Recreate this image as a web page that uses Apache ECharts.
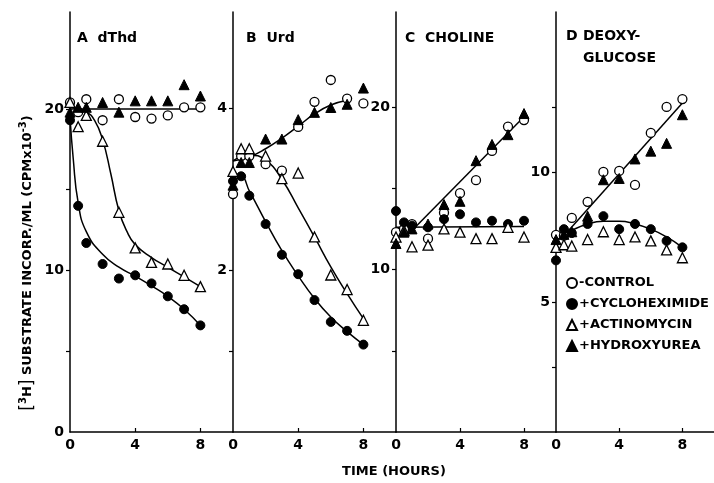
<!DOCTYPE html>
<html>
<head>
<meta charset="utf-8">
<script src="https://cdn.jsdelivr.net/npm/echarts@6.0.0/dist/echarts.min.js"></script>
<style>
  html, body { margin: 0; padding: 0; background: #fff; }
  #chart { width: 714px; height: 483px; }
</style>
</head>
<body>
<div id="chart"></div>
<script>
// sampling times (hours)
const hours = [0, 0.5, 1, 2, 3, 4, 5, 6, 7, 8]

// A  dThd
const dThdControl = [20.4, 19.8, 20.6, 19.3, 20.6, 19.5, 19.4, 19.6, 20.1, 20.1]
const dThdCyclo = [19.3, 14.0, 11.7, 10.4, 9.5, 9.7, 9.2, 8.4, 7.6, 6.6]
const dThdActino = [20.4, 18.9, 19.6, 18.0, 13.6, 11.4, 10.5, 10.4, 9.7, 9.0]
const dThdHydroxy = [19.8, 20.1, 20.1, 20.4, 19.8, 20.5, 20.5, 20.5, 21.5, 20.8]
// fitted curves (drawn by hand in the original)
const dThdFlatH = [0, 8]
const dThdFlat = [20.0, 20.0]
const dThdCycloFitH = [0, 0.2, 0.5, 1, 2, 3, 4, 5, 6, 7, 8]
const dThdCycloFit = [19.5, 16.9, 14.2, 12.4, 11.0, 10.2, 9.65, 9.05, 8.4, 7.6, 6.6]
const dThdActinoFitH = [0, 1, 1.5, 2, 2.5, 3, 3.5, 4, 5, 6, 7, 8]
const dThdActinoFit = [20.1, 19.8, 19.3, 18.1, 16.0, 13.7, 12.4, 11.6, 10.8, 10.2, 9.6, 9.0]

// B  Urd
const urdControl = [2.94, 3.41, 3.41, 3.31, 3.23, 3.77, 4.08, 4.35, 4.12, 4.06]
const urdCyclo = [3.1, 3.16, 2.92, 2.57, 2.19, 1.95, 1.63, 1.36, 1.25, 1.08]
const urdActino = [3.22, 3.5, 3.5, 3.41, 3.13, 3.2, 2.41, 1.94, 1.76, 1.38]
const urdHydroxy = [3.05, 3.33, 3.33, 3.62, 3.62, 3.86, 3.95, 4.01, 4.05, 4.25]
const urdRiseH = [0, 1, 2, 3, 4, 5, 6, 7]
const urdRise = [3.35, 3.4, 3.5, 3.63, 3.78, 3.93, 4.04, 4.1]
const urdActinoFitH = [0, 1, 2, 3, 4, 5, 6, 7, 8]
const urdActinoFit = [3.35, 3.42, 3.36, 3.12, 2.77, 2.41, 2.04, 1.71, 1.4]
const urdCycloFit = [3.1, 3.15, 2.98, 2.6, 2.24, 1.93, 1.65, 1.42, 1.24, 1.08]

// C  CHOLINE
const cholControl = [12.3, 12.5, 12.8, 11.9, 13.5, 14.7, 15.5, 17.3, 18.8, 19.2]
const cholCyclo = [13.6, 12.9, 12.7, 12.6, 13.1, 13.4, 12.9, 13.0, 12.8, 13.0]
const cholActino = [12.0, 12.4, 11.4, 11.5, 12.5, 12.3, 11.9, 11.9, 12.6, 12.0]
const cholHydroxy = [11.6, 12.3, 12.5, 12.8, 14.0, 14.2, 16.7, 17.7, 18.3, 19.6]
const cholFlatH = [0, 8]
const cholFlat = [12.6, 12.65]
const cholRiseH = [1.2, 8]
const cholRise = [12.6, 19.4]

// D  DEOXY-GLUCOSE
const dgControl = [7.58, 7.55, 8.23, 8.85, 10.0, 10.04, 9.5, 11.5, 12.5, 12.8]
const dgCyclo = [6.6, 7.8, 7.65, 8.0, 8.3, 7.8, 8.0, 7.8, 7.35, 7.1]
const dgActino = [7.1, 7.2, 7.15, 7.4, 7.7, 7.4, 7.5, 7.35, 7.0, 6.7]
const dgHydroxy = [7.4, 7.6, 7.7, 8.3, 9.7, 9.75, 10.5, 10.8, 11.1, 12.2]
const dgRiseH = [0.8, 8]
const dgRise = [7.75, 12.65]
const dgHumpH = [0, 1, 2, 3, 4, 5, 6, 7, 8]
const dgHump = [7.4, 7.75, 8.0, 8.1, 8.1, 8.0, 7.8, 7.5, 7.1]

const FONT = 'DejaVu Sans'
const pair = (xs, ys) => xs.map((x, i) => [x, ys[i]])

function marks(idx, control, cyclo, actino, hydroxy) {
  const base = { type: 'scatter', xAxisIndex: idx, yAxisIndex: idx, z: 5 }
  const open = { color: '#fff', borderColor: '#000', borderWidth: 1.3, opacity: 1 }
  const solid = { color: '#000', borderColor: '#000', borderWidth: 1, opacity: 1 }
  return [
    { ...base, name: 'CONTROL', symbol: 'circle', symbolSize: 9, itemStyle: open, data: pair(hours, control) },
    { ...base, name: 'CYCLOHEXIMIDE', symbol: 'circle', symbolSize: 9, itemStyle: solid, data: pair(hours, cyclo) },
    { ...base, name: 'ACTINOMYCIN', symbol: 'triangle', symbolSize: 10, itemStyle: open, data: pair(hours, actino) },
    { ...base, name: 'HYDROXYUREA', symbol: 'triangle', symbolSize: 10, itemStyle: solid, data: pair(hours, hydroxy) }
  ]
}

function fit(idx, xs, ys) {
  return {
    type: 'line', xAxisIndex: idx, yAxisIndex: idx, z: 2,
    smooth: 0.5, showSymbol: false, symbol: 'none', silent: true,
    lineStyle: { color: '#000', width: 1.5 },
    data: pair(xs, ys)
  }
}

const grids = [
  { left: 70, top: 12, width: 163, height: 420 },
  { left: 233, top: 12, width: 163, height: 420 },
  { left: 396, top: 12, width: 160, height: 420 },
  { left: 556, top: 12, width: 161, height: 420 }
]

const yMax = [26, 5.19, 25.85, 16.15]
const yTicks = [[5, 10, 15, 20], [1, 2, 3, 4], [5, 10, 15, 20], [2.5, 5, 7.5, 10, 12.5]]
const yLabels = [[0, 10, 20], [2, 4], [10, 20], [5, 10]]

const axisLine = { show: true, lineStyle: { color: '#000', width: 1.5 } }
const labelStyle = { color: '#000', fontFamily: FONT, fontWeight: 'bold', fontSize: 14 }

const chart = echarts.init(document.getElementById('chart'))

chart.setOption({
  animation: false,
  backgroundColor: '#fff',
  grid: grids,
  xAxis: grids.map((g, i) => ({
    type: 'value', gridIndex: i, min: 0, max: 10,
    axisLine: axisLine,
    axisTick: { show: true, inside: true, length: 4, customValues: [4, 8], lineStyle: { color: '#000', width: 1.2 } },
    axisLabel: { ...labelStyle, margin: 6, customValues: [0, 4, 8] },
    splitLine: { show: false }
  })),
  yAxis: grids.map((g, i) => ({
    type: 'value', gridIndex: i, min: 0, max: yMax[i],
    axisLine: axisLine,
    axisTick: { show: true, length: 4, customValues: yTicks[i], lineStyle: { color: '#000', width: 1.2 } },
    axisLabel: { ...labelStyle, margin: 6, customValues: yLabels[i] },
    splitLine: { show: false }
  })),
  legend: {
    data: ['CONTROL', 'CYCLOHEXIMIDE', 'ACTINOMYCIN', 'HYDROXYUREA'],
    orient: 'vertical',
    left: 566,
    top: 276,
    itemWidth: 10,
    itemHeight: 10,
    itemGap: 7,
    padding: 0,
    selectedMode: false,
    formatter: n => (n === 'CONTROL' ? '-' : '+') + n,
    textStyle: { color: '#000', fontFamily: FONT, fontWeight: 'bold', fontSize: 13, lineHeight: 14, padding: [0, 0, 0, -3] }
  },
  title: [
    { text: 'A  dThd', left: 77, top: 27 },
    { text: 'B  Urd', left: 246, top: 27 },
    { text: 'C  CHOLINE', left: 405, top: 27 },
    { text: 'D', left: 566, top: 25 },
    { text: 'DEOXY-\nGLUCOSE', left: 583, top: 25 }
  ].map(t => ({ ...t, padding: 0, textStyle: { color: '#000', fontFamily: FONT, fontWeight: 'bold', fontSize: 14, lineHeight: 22 } })),
  graphic: [
    {
      type: 'text', x: 394, y: 472,
      style: {
        text: 'TIME (HOURS)', align: 'center', verticalAlign: 'middle',
        fill: '#000', font: 'bold 13px "DejaVu Sans"'
      }
    },
    {
      type: 'text', x: 28, y: 263, rotation: Math.PI / 2,
      style: {
        text: '{b|[}{s|3}{t|H}{b|]} SUBSTRATE INCORP./ML (CPMx10{s|-3})',
        align: 'center', verticalAlign: 'middle',
        fill: '#000', font: 'bold 13px "DejaVu Sans"',
        rich: {
          b: { fontFamily: FONT, fontSize: 17, fontWeight: 'normal' },
          s: { fontFamily: FONT, fontSize: 10, fontWeight: 'bold', padding: [0, 0, 9, 0] },
          t: { fontFamily: FONT, fontSize: 13, fontWeight: 'bold' }
        }
      }
    }
  ],
  series: [
    fit(0, dThdFlatH, dThdFlat),
    fit(0, dThdCycloFitH, dThdCycloFit),
    fit(0, dThdActinoFitH, dThdActinoFit),
    ...marks(0, dThdControl, dThdCyclo, dThdActino, dThdHydroxy),

    fit(1, urdRiseH, urdRise),
    fit(1, urdActinoFitH, urdActinoFit),
    fit(1, hours, urdCycloFit),
    ...marks(1, urdControl, urdCyclo, urdActino, urdHydroxy),

    fit(2, cholFlatH, cholFlat),
    fit(2, cholRiseH, cholRise),
    ...marks(2, cholControl, cholCyclo, cholActino, cholHydroxy),

    fit(3, dgRiseH, dgRise),
    fit(3, dgHumpH, dgHump),
    ...marks(3, dgControl, dgCyclo, dgActino, dgHydroxy)
  ]
})
</script>
</body>
</html>
